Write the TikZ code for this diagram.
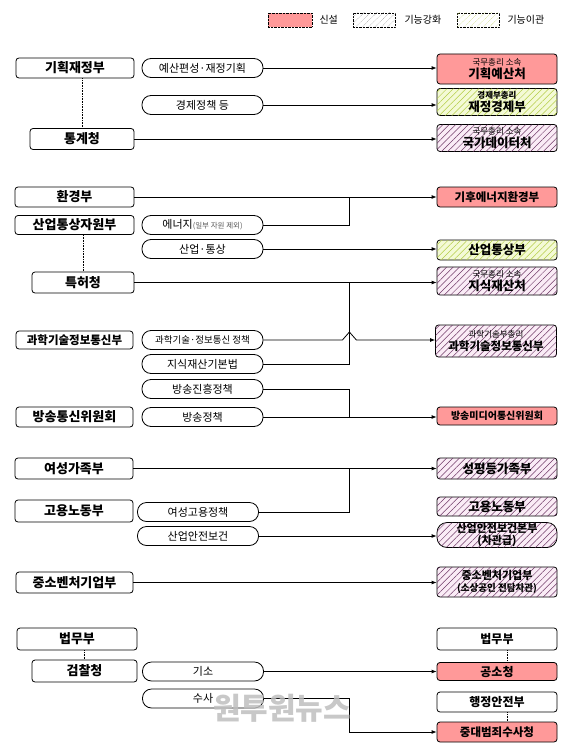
\documentclass[tikz,border=0pt]{standalone}
\usepackage{fontspec}
\setmainfont{Noto Sans CJK KR}
\usetikzlibrary{arrows.meta,patterns.meta}
\definecolor{newred}{RGB}{255,153,153}
\definecolor{uppink}{RGB}{250,236,246}
\definecolor{uphatch}{RGB}{112,58,104}
\definecolor{movefill}{RGB}{244,250,214}
\definecolor{movehatch}{RGB}{180,205,70}
\definecolor{wmark}{RGB}{190,190,190}
\newcommand\smtxt[1]{{\mdseries\fontsize{8.5}{9.5}\selectfont #1}}

\begin{document}
\begin{tikzpicture}[x=1pt,y=-1pt,
  lbox/.style={draw,line width=0.8pt,rounded corners=3pt,minimum height=20pt,inner sep=0pt,font=\bfseries\fontsize{13}{14}\selectfont},
  pill/.style={draw,line width=0.8pt,rounded corners=9pt,minimum width=121pt,minimum height=19pt,inner sep=0pt,font=\fontsize{11}{12}\selectfont},
  rbox/.style={draw,line width=0.8pt,rounded corners=3pt,minimum width=120pt,inner sep=0pt,align=center,font=\bfseries\fontsize{12.5}{13}\selectfont},
  newbox/.style={rbox,fill=newred},
  upbox/.style={rbox,fill=uppink,postaction={pattern={Lines[angle=45,distance=4.5pt,line width=0.5pt]},pattern color=uphatch}},
  movebox/.style={rbox,fill=movefill,postaction={pattern={Lines[angle=45,distance=4.5pt,line width=0.5pt]},pattern color=movehatch}},
  arr/.style={line width=0.8pt,-{Latex[length=5pt,width=4pt]}},
  link/.style={line width=0.8pt},
  sub/.style={densely dotted,line width=0.6pt}]
  \useasboundingbox (0,0) rectangle (567,752);

  % legend
  \node[draw,densely dotted,fill=newred,minimum width=44pt,minimum height=14pt] (lnew) at (290,20) {};
  \node[anchor=west,font=\fontsize{10}{12}\selectfont] (lnewt) at (316,20) {신설};
  \node[draw,densely dotted,minimum width=42pt,minimum height=14pt,
    postaction={pattern={Lines[angle=45,distance=4.5pt,line width=0.4pt]},pattern color=gray}] (lup) at (374,20) {};
  \node[anchor=west,font=\fontsize{10}{12}\selectfont] (lupt) at (401,20) {기능강화};
  \node[draw,densely dotted,minimum width=42pt,minimum height=14pt,
    postaction={pattern={Lines[angle=45,distance=4.5pt,line width=0.4pt]},pattern color=movehatch}] (lmove) at (478,20) {};
  \node[anchor=west,font=\fontsize{10}{12}\selectfont] (lmovet) at (504,20) {기능이관};

  % left: ministries
  \node[lbox,minimum width=118pt] (kijae) at (75,68) {기획재정부};
  \node[lbox,minimum width=104pt,minimum height=21pt] (tonggye) at (82,139) {통계청};
  \node[lbox,minimum width=119pt] (hwan) at (74.5,197) {환경부};
  \node[lbox,minimum width=119pt,minimum height=19pt] (sanup) at (74.5,225) {산업통상자원부};
  \node[lbox,minimum width=102pt,minimum height=21pt] (teukheo) at (83,282.5) {특허청};
  \node[lbox,minimum width=117pt,minimum height=18pt,font=\bfseries\fontsize{11.5}{13}\selectfont] (gwagi) at (74.5,340) {과학기술정보통신부};
  \node[lbox,minimum width=117pt] (bangtong) at (74.5,417) {방송통신위원회};
  \node[lbox,minimum width=118pt,minimum height=21pt] (yeoga) at (74,468.5) {여성가족부};
  \node[lbox,minimum width=118pt,minimum height=22pt] (goyong) at (74,511) {고용노동부};
  \node[lbox,minimum width=117pt,minimum height=21pt] (jungso) at (74.5,582.5) {중소벤처기업부};
  \node[lbox,minimum width=120pt,minimum height=22pt] (beommu) at (77,639) {법무부};
  \node[lbox,minimum width=105pt,minimum height=22pt] (geomchal) at (84.5,671) {검찰청};

  % middle: functions
  \node[pill] (yesan) at (202.5,68) {예산편성·재정기획};
  \node[pill] (gyeongje) at (202.5,105) {경제정책 등};
  \node[pill] (energy) at (202.5,225) {에너지{\fontsize{7.5}{8}\selectfont\color{gray!70!black}(일부 자원 제외)}};
  \node[pill] (santong) at (202.5,249) {산업·통상};
  \node[pill,font=\fontsize{9.5}{11}\selectfont] (gwajeong) at (202.5,340) {과학기술·정보통신 정책};
  \node[pill] (jisik) at (202.5,364) {지식재산기본법};
  \node[pill] (bangjin) at (202.5,389) {방송진흥정책};
  \node[pill] (bangjeong) at (202.5,417) {방송정책};
  \node[pill] (yeogo) at (198,512) {여성고용정책};
  \node[pill] (sanan) at (198,536) {산업안전보건};
  \node[pill] (giso) at (203,671.5) {기소};
  \node[pill] (susa) at (203,698.5) {수사};

  % right: new organisation
  \node[newbox,minimum height=30pt] (giyeok) at (497,69) {\smtxt{국무총리 소속}\\기획예산처};
  \node[movebox,minimum height=27pt] (jaegyeong) at (497,102) {{\fontsize{8.5}{9.5}\selectfont 경제부총리}\\재정경제부};
  \node[upbox,minimum height=27pt] (gukdata) at (497,138) {\smtxt{국무총리 소속}\\국가데이터처};
  \node[newbox,minimum height=20pt,font=\bfseries\fontsize{11.5}{13}\selectfont] (gihu) at (497,197) {기후에너지환경부};
  \node[movebox,minimum height=20pt] (santongbu) at (497,250) {산업통상부};
  \node[upbox,minimum height=28pt] (jisikcheo) at (497,281) {\smtxt{국무총리 소속}\\지식재산처};
  \node[upbox,minimum width=121pt,minimum height=32pt,font=\bfseries\fontsize{11.5}{13}\selectfont] (gwagibu) at (496,341) {\smtxt{과학기술부총리}\\과학기술정보통신부};
  \node[newbox,minimum height=18pt,font=\bfseries\fontsize{10}{12}\selectfont] (bangmedia) at (497,416) {방송미디어통신위원회};
  \node[upbox,minimum height=21pt] (seongpyeong) at (497,468.5) {성평등가족부};
  \node[upbox,minimum height=19pt] (goyongbu) at (497,506.5) {고용노동부};
  \node[upbox,minimum height=25pt,rounded corners=10pt,font=\bfseries\fontsize{11}{12}\selectfont] (sananbu) at (497,535) {산업안전보건본부\\(차관급)};
  \node[upbox,minimum height=30pt,font=\bfseries\fontsize{11}{12}\selectfont] (jungsobu) at (497,582) {중소벤처기업부\\{\fontsize{9.5}{11}\selectfont(소상공인 전담차관)}};
  \node[rbox,minimum height=22pt,font=\bfseries\fontsize{12}{13}\selectfont] (beommu2) at (497,639) {법무부};
  \node[newbox,minimum height=18pt,font=\bfseries\fontsize{12}{13}\selectfont] (gongso) at (497,671.5) {공소청};
  \node[rbox,minimum height=20pt,font=\bfseries\fontsize{12}{13}\selectfont] (haengan) at (497,702) {행정안전부};
  \node[newbox,minimum height=20pt,font=\bfseries\fontsize{11.5}{13}\selectfont] (jungdae) at (497,732) {중대범죄수사청};

  % joints
  \coordinate (jhwan) at (349,197);
  \coordinate (jteuk) at (349,282.5);
  \coordinate (jbang) at (349,417);
  \coordinate (jyeoga) at (349,468.5);
  \coordinate (jsusa) at (349,732);

  % straight arrows
  \foreach \a/\b in {yesan/giyeok,gyeongje/jaegyeong,tonggye/gukdata,hwan/gihu,
      santong/santongbu,teukheo/jisikcheo,bangjeong/bangmedia,yeoga/seongpyeong,
      sanan/sananbu,jungso/jungsobu,giso/gongso}
    \draw[arr] (\a.east) -- (\a.east -| \b.west);

  % merging lines
  \draw[link] (energy.east) -| (jhwan);
  \draw[link] (jisik.east) -| (jteuk);
  \draw[link] (bangjin.east) -| (jbang);
  \draw[link] (yeogo.east) -| (jyeoga);
  \draw[arr] (susa.east) -| (jsusa) -- (jungdae.west);
  \draw[arr] (gwajeong.east) -- ++(79,0) -- ++(7,-8) -- ++(7,8) -- (gwajeong.east -| gwagibu.west);

  % dotted ties
  \draw[sub] (kijae.south -| tonggye.north) -- (tonggye.north);
  \draw[sub] (sanup.south -| teukheo.north) -- (teukheo.north);
  \draw[sub] (beommu.south -| geomchal.north) -- (geomchal.north);
  \draw[sub] (beommu2.south -| 507,0) -- (gongso.north -| 507,0);
  \draw[sub] (haengan.south -| 507,0) -- (jungdae.north -| 507,0);

  % watermark
  \node[font=\bfseries\fontsize{30}{30}\selectfont,text=wmark,opacity=0.85] (wm) at (282,708) {원투원뉴스};
\end{tikzpicture}
\end{document}
